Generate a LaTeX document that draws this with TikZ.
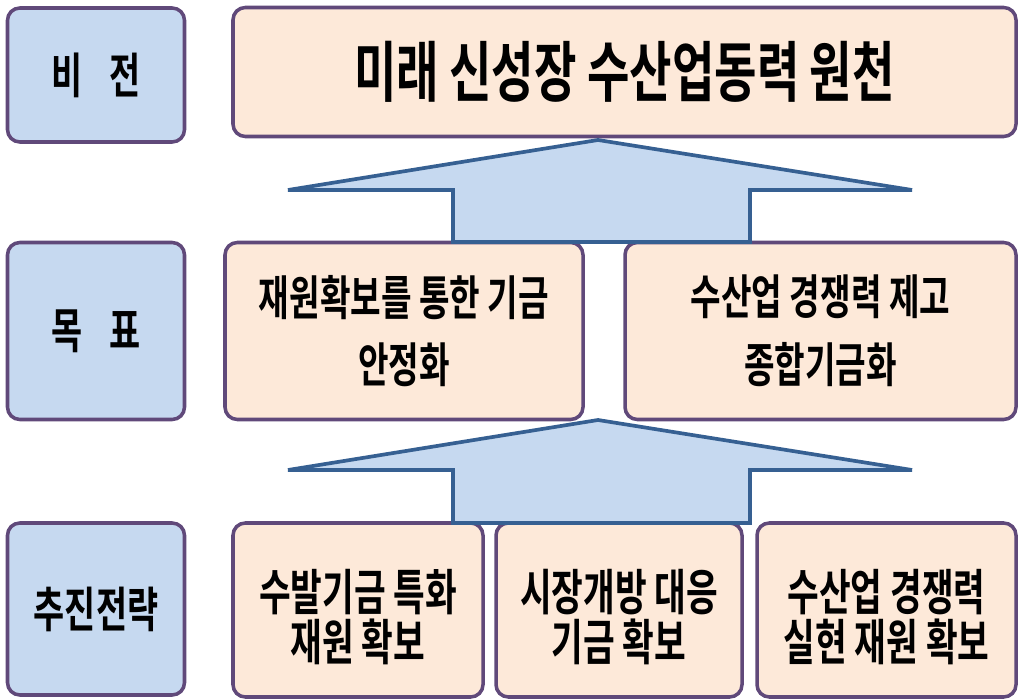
\documentclass[tikz,border=0pt]{standalone}
\usepackage{fontspec}
\usepackage{tikz}
\usetikzlibrary{arrows,backgrounds,positioning}
\newfontfamily\krfont[FakeStretch=0.7]{Noto Sans CJK KR Bold}
\definecolor{labelfill}{RGB}{198,217,240}
\definecolor{peachfill}{RGB}{253,233,217}
\definecolor{boxline}{RGB}{96,73,122}
\definecolor{arrowline}{RGB}{54,96,146}
\pgfdeclarelayer{edgelayer}
\pgfdeclarelayer{nodelayer}
\pgfsetlayers{main,nodelayer,edgelayer}

\begin{document}
\begin{tikzpicture}[x=0.2mm, y=-0.2mm, align=center,
	labelbox/.style={draw=boxline, fill=labelfill, line width=2pt, rounded corners=7pt, minimum width=177*0.2mm, inner sep=0pt, font={\krfont\fontsize{27.5}{30}\selectfont}},
	peachbox/.style={draw=boxline, fill=peachfill, line width=2pt, rounded corners=7pt, inner sep=0pt},
	blockarrow/.style={draw=arrowline, fill=labelfill, line width=2.1pt, line join=miter}]
	\useasboundingbox (0,0) rectangle (1019,700);
	\begin{pgfonlayer}{nodelayer}
		% left column
		\node [labelbox, minimum height=134*0.2mm] (0) at (96, 75) {비\hspace{0.55em}전};
		\node [labelbox, minimum height=177*0.2mm] (1) at (96, 331) {목\hspace{0.55em}표};
		\node [labelbox, minimum height=172*0.2mm] (2) at (96, 609) {추진전략};
		% vision
		\node [peachbox, minimum width=783*0.2mm, minimum height=129*0.2mm, font={\krfont\fontsize{37.5}{40}\selectfont}] (3) at (624.5, 72) {미래 신성장 수산업동력 원천};
		% goals
		\node [peachbox, minimum width=358*0.2mm, minimum height=177*0.2mm, font={\krfont\fontsize{27}{38.5}\selectfont}] (4) at (404, 331) {재원확보를 통한 기금\\안정화};
		\node [peachbox, minimum width=391*0.2mm, minimum height=177*0.2mm, font={\krfont\fontsize{27}{38.5}\selectfont}] (5) at (820.5, 331) {수산업 경쟁력 제고\\종합기금화};
		% strategies
		\node [peachbox, minimum width=250*0.2mm, minimum height=174*0.2mm, font={\krfont\fontsize{28}{28.5}\selectfont}] (6) at (358, 610) {\rule{0pt}{31pt}수발기금 특화\\재원 확보};
		\node [peachbox, minimum width=246*0.2mm, minimum height=174*0.2mm, font={\krfont\fontsize{28}{28.5}\selectfont}] (7) at (619, 610) {\rule{0pt}{31pt}시장개방 대응\\기금 확보};
		\node [peachbox, minimum width=259*0.2mm, minimum height=174*0.2mm, font={\krfont\fontsize{28}{28.5}\selectfont}] (8) at (886.5, 610) {\rule{0pt}{31pt}수산업 경쟁력\\실현 재원 확보};
		% upper arrow
		\coordinate (10) at (288, 190);
		\coordinate (11) at (598, 140);
		\coordinate (12) at (912, 190);
		\coordinate (13) at (750, 190);
		\coordinate (14) at (750, 242);
		\coordinate (15) at (453, 242);
		\coordinate (16) at (453, 190);
		% lower arrow
		\coordinate (20) at (288, 470);
		\coordinate (21) at (598, 420);
		\coordinate (22) at (912, 470);
		\coordinate (23) at (750, 470);
		\coordinate (24) at (750, 523);
		\coordinate (25) at (453, 523);
		\coordinate (26) at (453, 470);
	\end{pgfonlayer}
	\begin{pgfonlayer}{edgelayer}
		\draw [blockarrow] (10) -- (11) -- (12) -- (13) -- (14) -- (15) -- (16) -- cycle;
		\draw [blockarrow] (20) -- (21) -- (22) -- (23) -- (24) -- (25) -- (26) -- cycle;
	\end{pgfonlayer}
\end{tikzpicture}
\end{document}
